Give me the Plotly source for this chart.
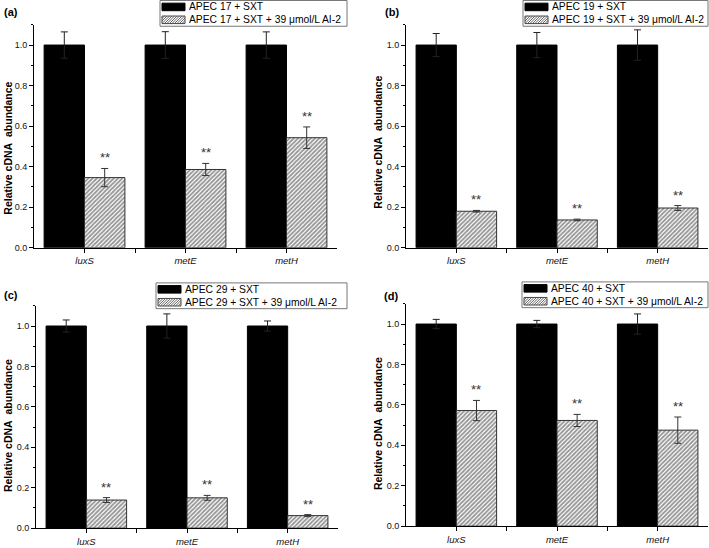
import plotly.graph_objects as go

W, H = 709, 548
FONT = "Arial, 'Liberation Sans', sans-serif"

# ---------------- data ----------------
categories = ["luxS", "metE", "metH"]
strains = ["17", "19", "29", "40"]
panel_labels = ["(a)", "(b)", "(c)", "(d)"]
y_title = "Relative cDNA\u00a0 abundance"

sxt_a = [1.0, 1.0, 1.0]
sxt_err_a = [0.065, 0.066, 0.065]
ai2_a = [0.346, 0.386, 0.543]
ai2_err_a = [0.045, 0.030, 0.053]

sxt_b = [1.0, 1.0, 1.0]
sxt_err_b = [0.057, 0.062, 0.075]
ai2_b = [0.180, 0.137, 0.196]
ai2_err_b = [0.004, 0.004, 0.012]

sxt_c = [1.0, 1.0, 1.0]
sxt_err_c = [0.030, 0.060, 0.025]
ai2_c = [0.139, 0.150, 0.062]
ai2_err_c = [0.012, 0.012, 0.005]

sxt_d = [1.0, 1.0, 1.0]
sxt_err_d = [0.023, 0.018, 0.050]
ai2_d = [0.572, 0.523, 0.475]
ai2_err_d = [0.050, 0.030, 0.065]

y_tick_values = [0.0, 0.2, 0.4, 0.6, 0.8, 1.0]
y_max = 1.1

series = [
    (sxt_a, sxt_err_a, ai2_a, ai2_err_a),
    (sxt_b, sxt_err_b, ai2_b, ai2_err_b),
    (sxt_c, sxt_err_c, ai2_c, ai2_err_c),
    (sxt_d, sxt_err_d, ai2_d, ai2_err_d),
]

# ---------------- layout geometry (pixels) ----------------
panels = [
    dict(x0=34, x1=337, y0=250, y1=25, lab=(11, 12), yt=(8, 150),
         leg=(160, 347, 0.5)),
    dict(x0=406, x1=708, y0=250, y1=25, lab=(392, 12), yt=(378, 143),
         leg=(523, 708, 0.5)),
    dict(x0=36, x1=338, y0=533, y1=308.6, lab=(11, 298), yt=(8, 430),
         leg=(156, 347, 285.5)),
    dict(x0=406, x1=708, y0=531, y1=306.6, lab=(391, 299), yt=(378, 427),
         leg=(522, 708, 284.5)),
]


def fx(p):
    return p / W


def fy(p):
    return 1 - p / H


BARGAP = 0.2
positions = list(range(len(categories)))
bar_offset = (1 - BARGAP) / 4

fig = go.Figure()
annotations = []
shapes = []

for k, (pn, (sxt, sxt_err, ai2, ai2_err)) in enumerate(zip(panels, series)):
    sfx = "" if k == 0 else str(k + 1)
    xa, ya = "x" + sfx, "y" + sfx
    name1 = f"APEC {strains[k]} + SXT"
    name2 = f"APEC {strains[k]} + SXT + 39 \u03bcmol/L AI-2"

    fig.add_trace(go.Bar(
        x=positions, y=sxt, name=name1, xaxis=xa, yaxis=ya, showlegend=False,
        marker=dict(color="black", line=dict(color="black", width=1)),
        error_y=dict(type="data", array=sxt_err, visible=True,
                     color="#222", thickness=1, width=3.5),
    ))
    fig.add_trace(go.Bar(
        x=positions, y=ai2, name=name2, xaxis=xa, yaxis=ya, showlegend=False,
        marker=dict(color="white", line=dict(color="#333", width=1),
                    pattern=dict(shape="/", size=3, solidity=0.6,
                                 fgcolor="#2a2a2a", bgcolor="white")),
        error_y=dict(type="data", array=ai2_err, visible=True,
                     color="#333", thickness=1, width=3.5),
    ))

    xdom = [fx(pn["x0"]), fx(pn["x1"])]
    ydom = [fy(pn["y0"]), fy(pn["y1"])]
    fig.layout["xaxis" + sfx] = dict(
        domain=xdom, anchor=ya, range=[-0.5, len(categories) - 0.5],
        tickmode="array", tickvals=positions, ticktext=categories,
        ticks="outside", ticklen=4, tickwidth=1, tickcolor="black",
        showline=True, linecolor="black", linewidth=1, showgrid=False,
        zeroline=False,
        tickfont=dict(family=FONT, size=9.5, color="#111", style="italic"),
        minor=dict(tickmode="array",
                   tickvals=[p + 0.5 for p in positions[:-1]],
                   ticks="outside", ticklen=4, tickwidth=1, tickcolor="black"),
        fixedrange=True,
    )
    fig.layout["yaxis" + sfx] = dict(
        domain=ydom, anchor=xa, range=[0, y_max + 1e-4],
        tickmode="array", tickvals=y_tick_values, tickformat=".1f",
        ticks="outside", ticklen=4, tickwidth=1, tickcolor="black",
        showline=True, linecolor="black", linewidth=1, showgrid=False,
        zeroline=False,
        tickfont=dict(family=FONT, size=9, color="#111"),
        minor=dict(dtick=0.1, tick0=0, ticks="outside", ticklen=2,
                   tickwidth=1, tickcolor="black"),
        fixedrange=True,
    )

    # significance stars
    for i, p in enumerate(positions):
        annotations.append(dict(
            x=p + bar_offset, y=ai2[i] + ai2_err[i], xref=xa, yref=ya,
            text="**", showarrow=False, yanchor="bottom", yshift=1,
            font=dict(family=FONT, size=13, color="#333"),
        ))

    # panel label
    annotations.append(dict(
        x=fx(pn["lab"][0]), y=fy(pn["lab"][1]), xref="paper", yref="paper",
        text=f"<b>{panel_labels[k]}</b>", showarrow=False,
        xanchor="center", yanchor="middle",
        font=dict(family=FONT, size=11, color="black"),
    ))
    # y-axis title
    annotations.append(dict(
        x=fx(pn["yt"][0]), y=fy(pn["yt"][1]), xref="paper", yref="paper",
        text=f"<b>{y_title}</b>", showarrow=False, textangle=-90,
        xanchor="center", yanchor="middle",
        font=dict(family=FONT, size=10.5, color="black"),
    ))

    # legend (drawn manually to match compact box)
    lx0, lx1, ly0 = pn["leg"]
    ly1 = ly0 + 26
    shapes.append(dict(type="rect", xref="paper", yref="paper",
                       x0=fx(lx0), x1=fx(lx1), y0=fy(ly0), y1=fy(ly1),
                       line=dict(color="#777", width=1), fillcolor="white",
                       layer="above"))
    sx0, sx1 = lx0 + 2, lx0 + 25
    rows = [ly0 + 6.5, ly0 + 19.5]
    # black swatch
    shapes.append(dict(type="rect", xref="paper", yref="paper",
                       x0=fx(sx0), x1=fx(sx1), y0=fy(rows[0] - 3.8),
                       y1=fy(rows[0] + 3.8),
                       line=dict(color="black", width=1), fillcolor="black",
                       layer="above"))
    # hatched swatch
    hy0, hy1 = rows[1] - 3.8, rows[1] + 3.8
    shapes.append(dict(type="rect", xref="paper", yref="paper",
                       x0=fx(sx0), x1=fx(sx1), y0=fy(hy0), y1=fy(hy1),
                       line=dict(color="#444", width=1), fillcolor="white",
                       layer="above"))
    segs = []
    c = sx0 + hy0
    while c < sx1 + hy1:
        xa_ = max(sx0, c - hy1)
        xb_ = min(sx1, c - hy0)
        if xb_ > xa_:
            segs.append(f"M{fx(xa_):.5f},{fy(c - xa_):.5f}L{fx(xb_):.5f},{fy(c - xb_):.5f}")
        c += 2.5
    shapes.append(dict(type="path", xref="paper", yref="paper",
                       path="".join(segs), line=dict(color="#555", width=0.9),
                       layer="above"))
    for r, nm in zip(rows, [name1, name2]):
        annotations.append(dict(
            x=fx(sx1 + 2), y=fy(r), xref="paper", yref="paper", text=nm,
            showarrow=False, xanchor="left", yanchor="middle",
            font=dict(family=FONT, size=10.3, color="black"),
        ))

fig.update_layout(
    width=W, height=H, autosize=False,
    margin=dict(l=0, r=0, t=0, b=0),
    paper_bgcolor="white", plot_bgcolor="white",
    barmode="group", bargap=BARGAP, bargroupgap=0,
    showlegend=False,
    annotations=annotations, shapes=shapes,
    font=dict(family=FONT, color="black"),
)

fig.write_html(
    "out.html",
    config={"displayModeBar": False, "staticPlot": True},
    post_script="document.body.style.margin='0';document.body.style.padding='0';"
                "document.body.style.overflow='hidden';",
)
